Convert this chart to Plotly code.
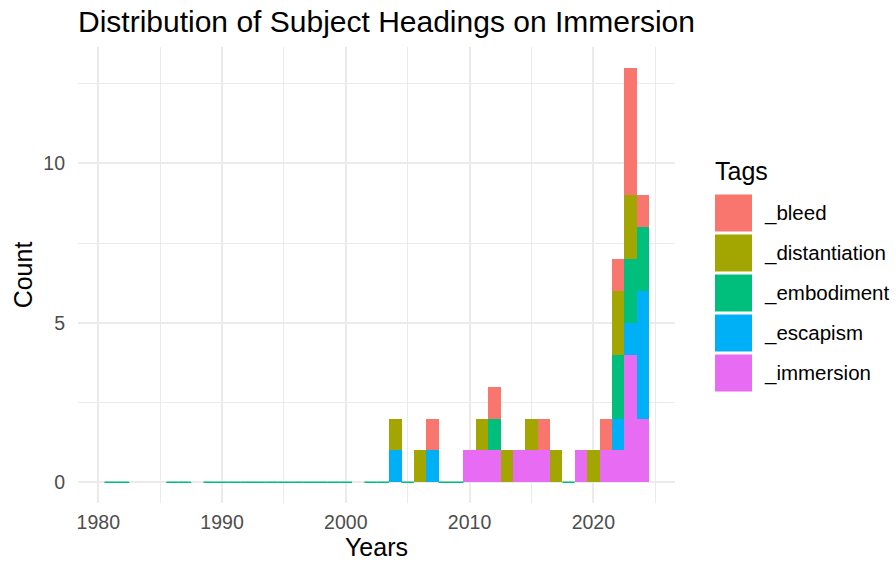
import plotly.graph_objects as go

# ---- data ----
years = list(range(2004, 2025))
tags = ["_bleed", "_distantiation", "_embodiment", "_escapism", "_immersion"]
colors = ["#F8766D", "#A3A500", "#00BF7D", "#00B0F6", "#E76BF3"]
#            04 05 06 07 08 09 10 11 12 13 14 15 16 17 18 19 20 21 22 23 24
bleed =         [0, 0, 0, 1, 0, 0, 0, 0, 1, 0, 0, 0, 1, 0, 0, 0, 0, 1, 1, 4, 1]
distantiation = [1, 0, 1, 0, 0, 0, 0, 1, 0, 1, 0, 1, 0, 1, 0, 0, 1, 0, 2, 2, 0]
embodiment =    [0, 0, 0, 0, 0, 0, 0, 0, 1, 0, 0, 0, 0, 0, 0, 0, 0, 0, 2, 2, 2]
escapism =      [1, 0, 0, 1, 0, 0, 0, 0, 0, 0, 0, 0, 0, 0, 0, 0, 0, 0, 1, 1, 4]
immersion =     [0, 0, 0, 0, 0, 0, 1, 1, 1, 0, 1, 1, 1, 0, 0, 1, 0, 1, 1, 4, 2]
# empty bins (zero count) rendered as baseline strokes
zero_years = [1981, 1982, 1986, 1987] + list(range(1989, 2001)) + [2002, 2003, 2005, 2008, 2009, 2018]

series = dict(zip(tags, [bleed, distantiation, embodiment, escapism, immersion]))
color_map = dict(zip(tags, colors))

fig = go.Figure()
for tag in reversed(tags):  # bottom of stack first
    fig.add_trace(go.Bar(
        x=years, y=series[tag], width=1, name=tag,
        marker=dict(color=color_map[tag], line=dict(width=0)),
        showlegend=False,
    ))

zx, zy = [], []
for yv in zero_years:
    zx += [yv - 0.5, yv + 0.5, None]
    zy += [0, 0, None]
fig.add_trace(go.Scatter(x=zx, y=zy, mode="lines", line=dict(color=color_map["_embodiment"], width=1.5),
                         showlegend=False, hoverinfo="skip"))

FONT = "Liberation Sans, Arial, sans-serif"
grid = "#EBEBEB"
W, H = 896, 563
# panel edges in window pixels
PL, PR, PT, PB = 78, 675, 47, 503
L, R, T, B = PL, W - PR, PT, H - PB
pw = PR - PL
ph = PB - PT

def fx(px):  # window px -> paper x
    return (px - PL) / pw

def fy(py):  # window px -> paper y
    return (PB - py) / ph

fig.update_layout(
    width=W, height=H,
    margin=dict(l=L, r=R, t=T, b=B, autoexpand=False),
    barmode="stack", bargap=0,
    plot_bgcolor="white", paper_bgcolor="white",
    font=dict(family=FONT, color="black"),
    title=dict(text="Distribution of Subject Headings on Immersion", x=78 / W, xanchor="left",
               y=1 - 21 / H, yanchor="middle", font=dict(size=30, color="black")),
    showlegend=False,
)
fig.update_xaxes(
    range=[1978.36, 2026.6], tickvals=[1980, 1990, 2000, 2010, 2020],
    showgrid=True, gridcolor=grid, gridwidth=1.6, zeroline=False, showline=False,
    ticks="", tickfont=dict(size=19.5, color="#4D4D4D"), automargin=False, ticklabelstandoff=5,
    title=dict(text="Years", font=dict(size=25, color="black"), standoff=6),
    minor=dict(tickvals=[1985, 1995, 2005, 2015, 2025], showgrid=True, gridcolor=grid, gridwidth=0.8),
)
fig.update_yaxes(
    range=[-0.65, 13.65], tickvals=[0, 5, 10],
    showgrid=True, gridcolor=grid, gridwidth=1.6, zeroline=False, showline=False,
    ticks="", tickfont=dict(size=19.5, color="#4D4D4D"), automargin=False, ticklabelstandoff=12,
    title=dict(text="Count", font=dict(size=25, color="black"), standoff=3),
    minor=dict(tickvals=[2.5, 7.5, 12.5], showgrid=True, gridcolor=grid, gridwidth=0.8),
)

# ---- legend (drawn as ggplot-like keys) ----
fig.add_annotation(text="Tags", xref="paper", yref="paper", x=fx(713),
                   y=fy(171), xanchor="left", yanchor="middle",
                   showarrow=False, font=dict(size=25, color="black"))
for i, tag in enumerate(tags):
    cy = 213 + 40 * i
    fig.add_shape(type="rect", xref="paper", yref="paper",
                  x0=fx(715), x1=fx(752), y0=fy(cy + 18.5), y1=fy(cy - 18.5),
                  fillcolor=color_map[tag], line=dict(width=0))
    fig.add_annotation(text=tag, xref="paper", yref="paper", x=fx(762),
                       y=fy(cy), xanchor="left", yanchor="middle",
                       showarrow=False, font=dict(size=20.5, color="black"))

fig.write_html("out.html", config={"displayModeBar": False},
               post_script="document.body.style.margin='0';")
